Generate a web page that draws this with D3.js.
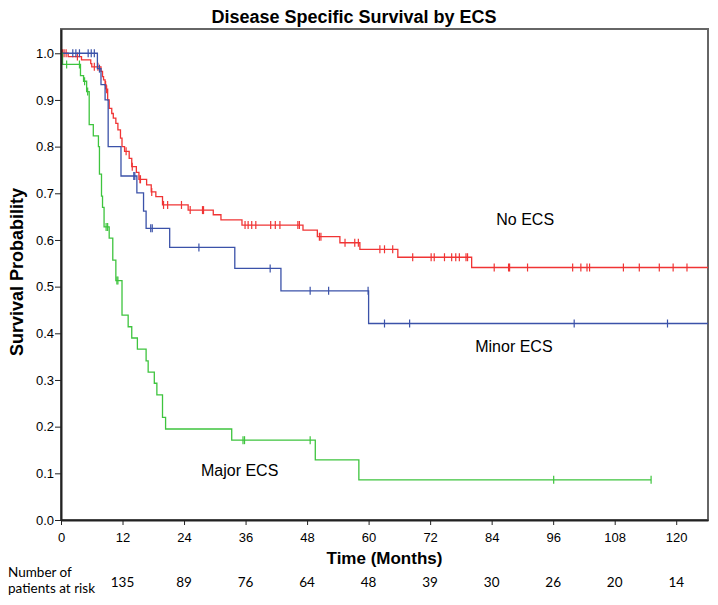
<!DOCTYPE html>
<html>
<head>
<meta charset="utf-8">
<script src="https://cdn.jsdelivr.net/npm/d3@7"></script>
<style>
    body { margin: 0; background: #fff; }
    svg { display: block; }
    .axis text { font-family: "Liberation Sans", Arial, sans-serif; font-size: 13px; fill: #000; }
    .axis path, .axis line { stroke: #222; }
</style>
</head>
<body>
<svg id="km" width="718" height="605"></svg>
<script>
// Kaplan-Meier steps: [time in months, survival after the event]
var noEcsSteps = [
    [1.4, 0.993], [4.0, 0.986], [5.8, 0.978], [6.0, 0.971], [7.8, 0.961], [8.1, 0.950],
    [8.3, 0.943], [8.6, 0.932], [8.8, 0.923], [9.1, 0.900], [9.4, 0.882], [9.9, 0.871],
    [10.2, 0.861], [10.7, 0.850], [11.1, 0.836], [11.6, 0.818], [11.9, 0.800], [12.4, 0.790],
    [13.3, 0.775], [13.8, 0.757], [14.7, 0.745], [15.2, 0.730], [16.7, 0.718], [17.6, 0.703],
    [18.5, 0.693], [19.8, 0.675], [24.8, 0.664], [29.7, 0.654], [31.2, 0.643], [35.3, 0.632],
    [47.2, 0.621], [50.0, 0.607], [54.4, 0.594], [58.3, 0.580], [65.7, 0.563], [80.1, 0.541]
];
var noEcsCensored = [
    0.3, 0.6, 1.0, 3.2, 6.5, 7.2, 8.7, 8.9, 12.7, 13.9, 15.4, 15.5, 17.7, 20.0, 20.8, 23.5,
    25.2, 27.6, 27.8, 35.9, 36.5, 37.2, 38.0, 40.9, 41.8, 42.7, 46.2, 46.5, 50.4, 50.7,
    55.4, 57.3, 58.0, 62.2, 63.1, 64.7, 68.6, 72.2, 72.8, 74.8, 76.2, 77.0, 77.7, 79.0, 79.3,
    84.5, 87.3, 87.5, 91.0, 99.8, 101.4, 102.6, 103.1, 109.7, 112.8, 116.7, 119.4, 122.1
];
var noEcsEnd = 130;

var minorEcsSteps = [
    [7.1, 0.967], [7.8, 0.933], [8.6, 0.900], [9.2, 0.800], [11.7, 0.737], [14.8, 0.701],
    [16.1, 0.662], [16.6, 0.625], [21.2, 0.584], [33.9, 0.539], [42.9, 0.491], [60.0, 0.421]
];
var minorEcsCensored = [
    2.3, 2.9, 3.6, 5.3, 5.9, 6.5, 7.5, 14.2, 14.4, 17.5, 17.8, 26.9, 40.8, 48.6, 52.2, 59.9,
    63.1, 68.0, 100.1, 118.3
];
var minorEcsEnd = 130;

var majorEcsSteps = [
    [0.3, 0.976], [3.8, 0.952], [4.4, 0.940], [5.0, 0.918], [5.5, 0.847], [6.3, 0.823],
    [7.3, 0.800], [7.5, 0.741], [7.9, 0.694], [8.1, 0.670], [8.4, 0.628], [9.4, 0.604],
    [10.1, 0.557], [10.7, 0.513], [11.9, 0.439], [13.1, 0.414], [13.8, 0.390], [14.9, 0.366],
    [16.6, 0.341], [17.0, 0.317], [18.2, 0.293], [18.7, 0.268], [19.8, 0.220], [20.4, 0.195],
    [33.3, 0.171], [49.6, 0.129], [58.1, 0.086]
];
var majorEcsCensored = [1.1, 3.6, 4.6, 5.2, 8.8, 9.1, 10.9, 11.1, 35.5, 35.8, 48.6, 96.1, 115.1];
var majorEcsEnd = 115.1;

var groupNames = ["No ECS", "Minor ECS", "Major ECS"];
var groupColors = ["#f03434", "#3b52a9", "#3ec43e"];
// label anchor in data units [months, survival]
var groupLabelAt = [[84.9, 0.631], [80.8, 0.359], [27.3, 0.095]];

var xTicks = [0, 12, 24, 36, 48, 60, 72, 84, 96, 108, 120];
var yTicks = [0, 0.1, 0.2, 0.3, 0.4, 0.5, 0.6, 0.7, 0.8, 0.9, 1.0];
var riskTimes = [12, 24, 36, 48, 60, 72, 84, 96, 108, 120];
var riskCounts = [135, 89, 76, 64, 48, 39, 30, 26, 20, 14];

var groups = [
    {steps: noEcsSteps, censored: noEcsCensored, end: noEcsEnd},
    {steps: minorEcsSteps, censored: minorEcsCensored, end: minorEcsEnd},
    {steps: majorEcsSteps, censored: majorEcsCensored, end: majorEcsEnd}
];

var svg = d3.select("#km"),
    plotL = 61, plotR = 708, plotT = 29, plotB = 520;

var x = d3.scaleLinear().domain([0, 126.2]).range([plotL, plotR]);
var y = d3.scaleLinear().domain([0, 1.052]).range([plotB, plotT]);

svg.append("defs").append("clipPath").attr("id", "plotclip")
    .append("rect")
    .attr("x", plotL).attr("y", plotT)
    .attr("width", plotR - plotL).attr("height", plotB - plotT);

// frame
svg.append("rect")
    .attr("x", plotL).attr("y", plotT)
    .attr("width", plotR - plotL).attr("height", plotB - plotT)
    .attr("fill", "none")
    .attr("stroke", "#666")
    .attr("stroke-width", 2);

function survivalAt(steps, t) {
    var s = 1;
    steps.forEach(function (d) {
        if (d[0] <= t) s = d[1];
    });
    return s;
}

var line = d3.line()
    .x(function (d) { return x(d[0]); })
    .y(function (d) { return y(d[1]); })
    .curve(d3.curveStepAfter);

var plot = svg.append("g").attr("clip-path", "url(#plotclip)");

groups.forEach(function (g, i) {
    var pts = [[0, 1]].concat(g.steps);
    pts.push([g.end, g.steps[g.steps.length - 1][1]]);

    plot.append("path")
        .datum(pts)
        .attr("fill", "none")
        .attr("stroke", groupColors[i])
        .attr("stroke-width", 1.3)
        .attr("d", line);

    plot.selectAll(".cens" + i)
        .data(g.censored)
        .enter().append("line")
        .attr("class", "cens" + i)
        .attr("x1", function (d) { return x(d); })
        .attr("x2", function (d) { return x(d); })
        .attr("y1", function (d) { return y(survivalAt(g.steps, d)) - 4; })
        .attr("y2", function (d) { return y(survivalAt(g.steps, d)) + 4; })
        .attr("stroke", groupColors[i])
        .attr("stroke-width", 1.2);
});

// axes
svg.append("g")
    .attr("class", "axis")
    .attr("transform", "translate(0," + plotB + ")")
    .call(d3.axisBottom(x).tickValues(xTicks).tickSize(5).tickSizeOuter(0).tickFormat(d3.format("d")))
    .call(function (g) { g.select(".domain").attr("stroke-width", 2).attr("stroke", "#333"); })
    .selectAll("text").attr("dy", "1.05em");

svg.append("g")
    .attr("class", "axis")
    .attr("transform", "translate(" + plotL + ",0)")
    .call(d3.axisLeft(y).tickValues(yTicks).tickSize(6).tickSizeOuter(0).tickFormat(d3.format(".1f")))
    .call(function (g) { g.select(".domain").attr("stroke-width", 2).attr("stroke", "#222"); })
    .selectAll("text").attr("x", -7);

// group labels
svg.selectAll(".glabel")
    .data(groupNames)
    .enter().append("text")
    .attr("class", "glabel")
    .attr("x", function (d, i) { return x(groupLabelAt[i][0]); })
    .attr("y", function (d, i) { return y(groupLabelAt[i][1]); })
    .style("font-family", "Liberation Sans, Arial, sans-serif")
    .style("font-size", "16px")
    .text(function (d) { return d; });

// titles
svg.append("text")
    .attr("x", 354).attr("y", 23)
    .attr("text-anchor", "middle")
    .style("font-family", "Liberation Sans, Arial, sans-serif")
    .style("font-weight", "bold")
    .style("font-size", "18px")
    .text("Disease Specific Survival by ECS");

svg.append("text")
    .attr("x", (plotL + plotR) / 2).attr("y", 564)
    .attr("text-anchor", "middle")
    .style("font-family", "Liberation Sans, Arial, sans-serif")
    .style("font-weight", "bold")
    .style("font-size", "17px")
    .text("Time (Months)");

svg.append("text")
    .attr("transform", "translate(23,272) rotate(-90)")
    .attr("text-anchor", "middle")
    .style("font-family", "Liberation Sans, Arial, sans-serif")
    .style("font-weight", "bold")
    .style("font-size", "18px")
    .text("Survival Probability");

// number at risk
var riskFont = "Lato, 'Open Sans', sans-serif";
svg.append("text")
    .attr("x", 8).attr("y", 577)
    .style("font-family", riskFont).style("font-size", "13.5px")
    .text("Number of");
svg.append("text")
    .attr("x", 8).attr("y", 593)
    .style("font-family", riskFont).style("font-size", "13.5px")
    .text("patients at risk");

svg.selectAll(".risk")
    .data(riskCounts)
    .enter().append("text")
    .attr("class", "risk")
    .attr("x", function (d, i) { return x(riskTimes[i]); })
    .attr("y", 587)
    .attr("text-anchor", "middle")
    .style("font-family", riskFont).style("font-size", "13.5px")
    .text(function (d) { return d; });
</script>
</body>
</html>
